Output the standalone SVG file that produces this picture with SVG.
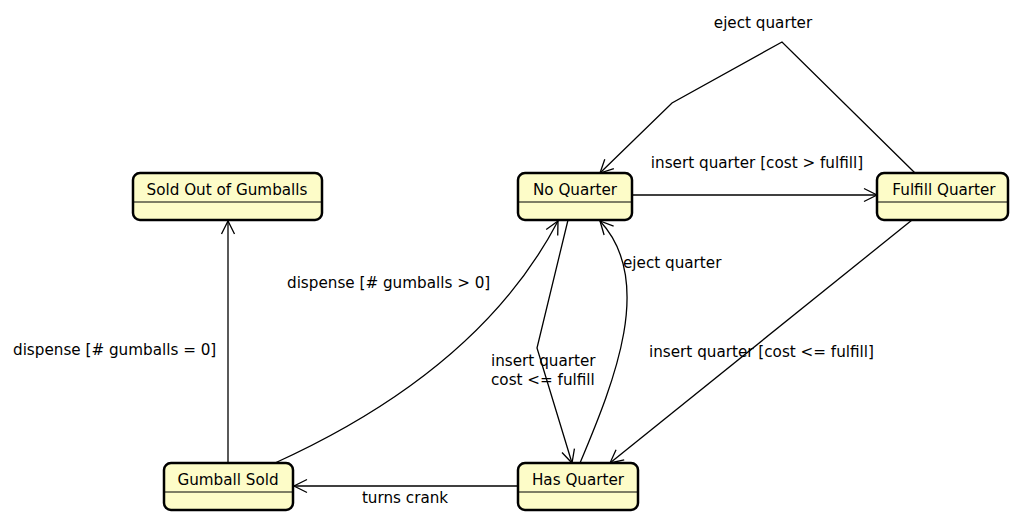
<svg xmlns="http://www.w3.org/2000/svg" width="1020" height="522" viewBox="0 0 1020 522">
<style>
  .box { fill: #fdfcc8; stroke: #000; stroke-width: 2.5; }
  .div { stroke: #000; stroke-width: 1.2; }
  .t { font-family: "DejaVu Sans", "Liberation Sans", sans-serif; font-size: 15.2px; fill: #000; }
  .c { text-anchor: middle; }
  .e { fill: none; stroke: #000; stroke-width: 1.3; }
</style>
<defs>
  <marker id="arr" markerWidth="16" markerHeight="16" refX="14" refY="8" orient="auto" markerUnits="userSpaceOnUse">
    <path d="M1,1.5 L14,8 L1,14.5" fill="none" stroke="#000" stroke-width="1.3"/>
  </marker>
</defs>
<rect width="1020" height="522" fill="#fff"/>
<g id="connectors">
  <path class="e" d="M632,195 L877,195" marker-end="url(#arr)"/>
  <text class="t c" x="757" y="168">insert quarter [cost &gt; fulfill]</text>
  <path class="e" d="M915,173 L782,42 L672,103 L600,173" marker-end="url(#arr)"/>
  <text class="t c" x="763" y="28">eject quarter</text>
  <path class="e" d="M912,220 L610,463" marker-end="url(#arr)"/>
  <text class="t" x="649" y="357">insert quarter [cost &lt;= fulfill]</text>
  <path class="e" d="M568,220 L537,348 L572,463" marker-end="url(#arr)"/>
  <text class="t" x="491" y="366">insert quarter</text>
  <text class="t" x="491" y="385">cost &lt;= fulfill</text>
  <path class="e" d="M580,463 C615,380 655,280 600,221" marker-end="url(#arr)"/>
  <text class="t" x="623" y="268">eject quarter</text>
  <path class="e" d="M275,463 Q480,370 558,221" marker-end="url(#arr)"/>
  <text class="t" x="287" y="288">dispense [# gumballs &gt; 0]</text>
  <path class="e" d="M228,463 L228,221" marker-end="url(#arr)"/>
  <text class="t" x="13" y="355">dispense [# gumballs = 0]</text>
  <path class="e" d="M518,486 L294,486" marker-end="url(#arr)"/>
  <text class="t c" x="405" y="503">turns crank</text>
</g>
<g id="sold-out">
  <rect class="box" x="133" y="173" width="189" height="47" rx="7"/>
  <line class="div" x1="134" y1="202" x2="321" y2="202"/>
  <text class="t c" x="227" y="195">Sold Out of Gumballs</text>
</g>
<g id="no-quarter">
  <rect class="box" x="518" y="173" width="114" height="47" rx="7"/>
  <line class="div" x1="519" y1="202" x2="631" y2="202"/>
  <text class="t c" x="575" y="195">No Quarter</text>
</g>
<g id="fulfill-quarter">
  <rect class="box" x="877" y="173" width="131" height="47" rx="7"/>
  <line class="div" x1="878" y1="202" x2="1007" y2="202"/>
  <text class="t c" x="944" y="195">Fulfill Quarter</text>
</g>
<g id="gumball-sold">
  <rect class="box" x="164" y="463" width="129" height="47" rx="7"/>
  <line class="div" x1="165" y1="492" x2="292" y2="492"/>
  <text class="t c" x="228" y="485">Gumball Sold</text>
</g>
<g id="has-quarter">
  <rect class="box" x="518" y="463" width="120" height="47" rx="7"/>
  <line class="div" x1="519" y1="492" x2="637" y2="492"/>
  <text class="t c" x="578" y="485">Has Quarter</text>
</g>
</svg>
